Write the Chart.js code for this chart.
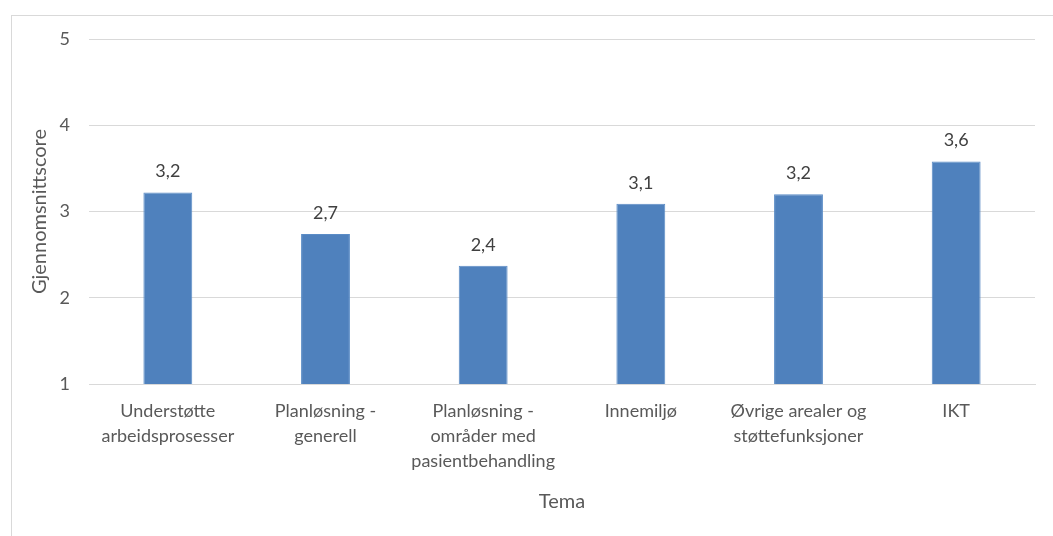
<!DOCTYPE html>
<html>
<head>
<meta charset="utf-8">
<script src="https://cdn.jsdelivr.net/npm/chart.js@4.4.1/dist/chart.umd.min.js"></script>
<style>
  html, body { margin: 0; padding: 0; background: #ffffff; overflow: hidden; }
  #frame { position: absolute; left: 11px; top: 15px; width: 1100px; height: 600px; border: 1px solid #d9d9d9; box-sizing: border-box; }
  #wrap { position: absolute; left: 0; top: 0; width: 1053px; height: 536px; }
</style>
</head>
<body>
<div id="frame"></div>
<div id="wrap"><canvas id="chart" width="1053" height="536"></canvas></div>
<script>
// Average score per theme
const categories = [
  ['Understøtte', 'arbeidsprosesser'],
  ['Planløsning -', 'generell'],
  ['Planløsning -', 'områder med', 'pasientbehandling'],
  ['Innemiljø'],
  ['Øvrige arealer og', 'støttefunksjoner'],
  ['IKT']
];
const scores = [3.22, 2.74, 2.37, 3.09, 3.20, 3.58];
const yTicks = [1, 2, 3, 4, 5];

const FONT = 'Lato, "Open Sans", sans-serif';
const TEXT = '#595959';

const formatScore = v => v.toFixed(1).replace('.', ',');

const valueLabels = {
  id: 'valueLabels',
  afterDatasetsDraw(chart) {
    const { ctx } = chart;
    const meta = chart.getDatasetMeta(0);
    ctx.save();
    ctx.font = '18px ' + FONT;
    ctx.fillStyle = '#404040';
    ctx.textAlign = 'center';
    ctx.textBaseline = 'middle';
    meta.data.forEach((bar, i) => {
      ctx.fillText(formatScore(scores[i]), bar.x, bar.y - 21);
    });
    ctx.restore();
  }
};

new Chart(document.getElementById('chart'), {
  type: 'bar',
  data: {
    labels: categories,
    datasets: [{
      data: scores,
      backgroundColor: '#4f81bd',
      borderColor: '#5b8cc6',
      borderWidth: 1,
      barPercentage: 0.31,
      categoryPercentage: 1.0
    }]
  },
  options: {
    responsive: false,
    animation: false,
    devicePixelRatio: 1,
    layout: { padding: { left: 0, right: 18, top: 39, bottom: 0 } },
    plugins: { legend: { display: false }, tooltip: { enabled: false } },
    scales: {
      x: {
        grid: { display: false, drawTicks: false },
        border: { display: true, color: '#d9d9d9', width: 1 },
        ticks: {
          color: TEXT,
          font: { family: FONT, size: 18, lineHeight: 1.39 },
          padding: 15,
          maxRotation: 0,
          autoSkip: false
        },
        title: {
          display: true,
          text: 'Tema',
          color: TEXT,
          font: { family: FONT, size: 20, lineHeight: 1.2 },
          padding: { top: 0, bottom: 22 }
        },
        afterFit(scale) { scale.height = 536 - 384; }
      },
      y: {
        min: 1,
        max: 5,
        afterBuildTicks(scale) { scale.ticks = yTicks.map(v => ({ value: v })); },
        grid: { color: '#d9d9d9', lineWidth: 1, drawTicks: false },
        border: { display: false },
        ticks: {
          color: TEXT,
          font: { family: FONT, size: 18 },
          padding: 19
        },
        title: {
          display: true,
          text: 'Gjennomsnittscore',
          color: TEXT,
          font: { family: FONT, size: 20, lineHeight: 1.2 },
          padding: { top: 28, bottom: 0 }
        },
        afterFit(scale) { scale.width = 89; }
      }
    }
  },
  plugins: [valueLabels]
});
</script>
</body>
</html>
